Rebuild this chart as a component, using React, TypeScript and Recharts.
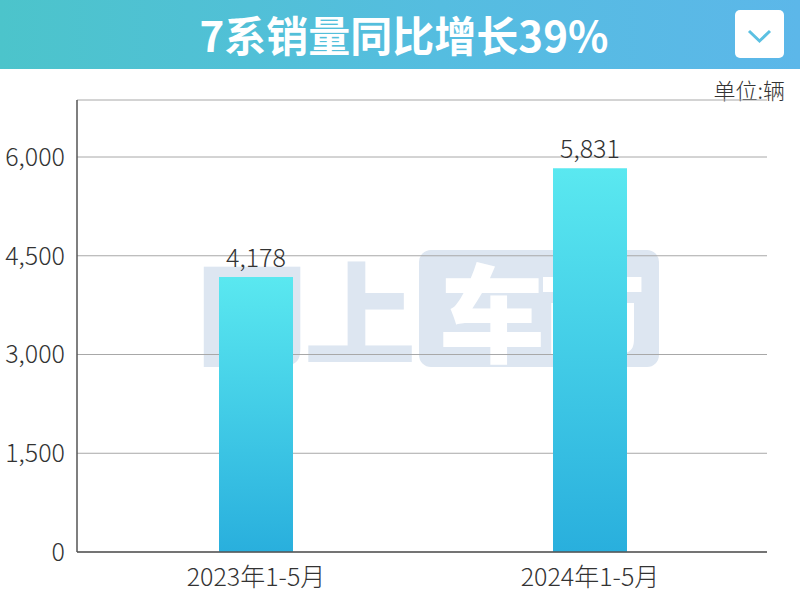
import { Bar, BarChart, CartesianGrid, LabelList, XAxis, YAxis } from 'recharts'

// 类别与销量
const periods = ['2023年1-5月', '2024年1-5月']
const sales = [4178, 5831]
const yTicks = [0, 1500, 3000, 4500, 6000]

const data = periods.map((name, i) => ({ name, total: sales[i] }))

const font = '"Noto Sans CJK SC", "Noto Sans", sans-serif'

function Watermark() {
    return (
        <div style={{ position: 'absolute', left: 0, top: 0, width: 800, height: 600 }}>
            <div
                style={{
                    position: 'absolute',
                    left: 196,
                    top: 246,
                    fontFamily: font,
                    fontWeight: 900,
                    fontSize: 112,
                    lineHeight: '124px',
                    color: '#dde6f1',
                    letterSpacing: -4,
                }}
            >
                网上
            </div>
            <div
                style={{
                    position: 'absolute',
                    left: 419,
                    top: 250,
                    width: 240,
                    height: 117,
                    borderRadius: 12,
                    background: '#dde6f1',
                    fontFamily: font,
                    fontWeight: 900,
                    fontSize: 106,
                    lineHeight: '117px',
                    color: '#ffffff',
                    textAlign: 'center',
                    letterSpacing: -6,
                }}
            >
                车市
            </div>
        </div>
    )
}

function Header() {
    return (
        <div
            style={{
                position: 'absolute',
                left: 0,
                top: 0,
                width: 800,
                height: 69,
                background: 'linear-gradient(90deg, #4cc4cb 0%, #55bde0 55%, #5cb7e9 100%)',
            }}
        >
            <div
                style={{
                    position: 'absolute',
                    left: 0,
                    width: 808,
                    top: 8,
                    textAlign: 'center',
                    color: '#fff',
                    fontFamily: font,
                    fontWeight: 700,
                    fontSize: 42,
                    lineHeight: '52px',
                }}
            >
                7系销量同比增长39%
            </div>
            <div
                style={{
                    position: 'absolute',
                    left: 735,
                    top: 10,
                    width: 49,
                    height: 48,
                    borderRadius: 5,
                    background: '#fff',
                }}
            >
                <svg width={49} height={48}>
                    <polyline points="14,21 24.5,31 35,21" fill="none" stroke="#5bc0e2" strokeWidth={3} />
                </svg>
            </div>
        </div>
    )
}

export default function App() {
    return (
        <div style={{ position: 'absolute', left: 0, top: 0, width: 800, height: 600, background: '#fff', overflow: 'hidden' }}>
            <Watermark />
            <Header />
            <div
                style={{
                    position: 'absolute',
                    right: 15,
                    top: 73,
                    fontFamily: font,
                    fontSize: 22,
                    color: '#333',
                    fontWeight: 300,
                }}
            >
                单位:辆
            </div>
            <div style={{ position: 'absolute', left: 0, top: 0 }}>
                <BarChart
                    width={800}
                    height={600}
                    data={data}
                    margin={{ top: 100, right: 33, bottom: 0, left: 0 }}
                    barCategoryGap="0%"
                >
                    <defs>
                        <linearGradient id="barFill" x1="0" y1="0" x2="0" y2="1">
                            <stop offset="0%" stopColor="#5ae8f0" />
                            <stop offset="100%" stopColor="#29afdd" />
                        </linearGradient>
                    </defs>
                    <CartesianGrid vertical={false} stroke="#a8a8a8" strokeWidth={1} />
                    <XAxis
                        dataKey="name"
                        height={48}
                        tickLine={false}
                        stroke="#555555"
                        strokeWidth={1.5}
                        tick={{ fill: '#333', fontSize: 25, fontFamily: font, fontWeight: 300 }}
                        tickMargin={10}
                        padding={{ left: 12, right: 10 }}
                    />
                    <YAxis
                        width={77}
                        domain={[0, 6866]}
                        ticks={yTicks}
                        tickLine={false}
                        stroke="#555555"
                        strokeWidth={1.5}
                        tick={{ fill: '#333', fontSize: 25, fontFamily: font, fontWeight: 300 }}
                        tickMargin={6}
                        tickFormatter={(value) => value.toLocaleString('en-US')}
                    />
                    <Bar dataKey="total" fill="url(#barFill)" barSize={74} isAnimationActive={false}>
                        <LabelList
                            dataKey="total"
                            position="top"
                            offset={10}
                            fill="#333"
                            fontSize={25}
                            fontFamily={font}
                            fontWeight={300}
                            formatter={(value: number) => value.toLocaleString('en-US')}
                        />
                    </Bar>
                </BarChart>
            </div>
        </div>
    )
}
